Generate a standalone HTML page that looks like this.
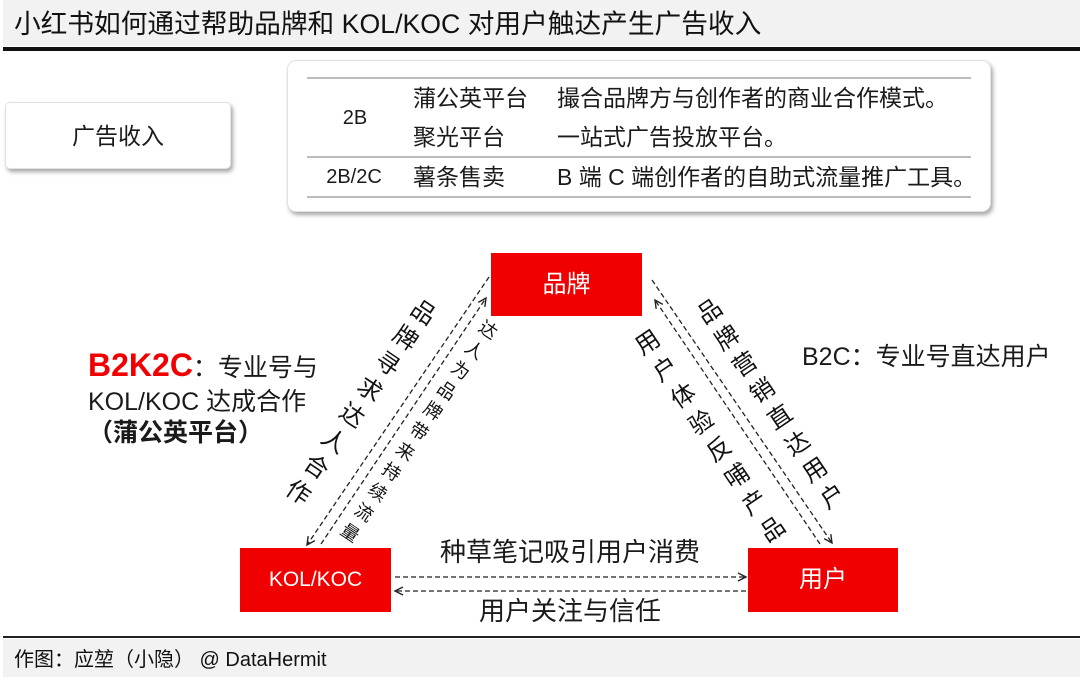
<!DOCTYPE html>
<html>
<head>
<meta charset="utf-8">
<style>
  html, body { margin:0; padding:0; background:#fff; }
  body { width:1080px; height:683px; position:relative; overflow:hidden;
         font-family:"Liberation Sans","Noto Sans CJK SC",sans-serif; color:#1a1a1a; }
  .abs { position:absolute; white-space:nowrap; }
  .titlebar { left:3px; top:0; width:1077px; height:46px; background:#f2f2f2; }
  .titleline { left:3px; top:47px; width:1077px; height:4px; background:#111; }
  .title { left:14px; top:4px; height:40px; line-height:40px; font-size:26.7px; color:#111; }
  .footline { left:3px; top:636px; width:1077px; height:2px; background:#222; }
  .footbar { left:3px; top:639px; width:1077px; height:38px; background:#f2f2f2; }
  .foot { left:14px; top:645px; height:30px; line-height:30px; font-size:20px; color:#111; }
  .card { background:#fff; border:1px solid #e2e2e2; box-shadow:2px 3px 4px rgba(0,0,0,0.35); }
  .c { text-align:center; }
  .red { background:#f00000; color:#fff; text-align:center; }
  .t23 { font-size:23px; height:30px; line-height:30px; }
</style>
</head>
<body>
  <div class="abs titlebar"></div>
  <div class="abs titleline"></div>
  <div class="abs title">小红书如何通过帮助品牌和 KOL/KOC 对用户触达产生广告收入</div>

  <!-- 广告收入 box -->
  <div class="abs card" style="left:5px;top:102px;width:224px;height:65px;border-radius:5px;"></div>
  <div class="abs c" style="left:5px;top:120px;width:226px;height:32px;line-height:32px;font-size:23px;">广告收入</div>

  <!-- table card -->
  <div class="abs card" style="left:287px;top:60px;width:702px;height:150px;border-radius:9px;"></div>
  <div class="abs" style="left:307px;top:77px;width:664px;height:1.5px;background:#bdbdbd;"></div>
  <div class="abs" style="left:307px;top:156px;width:664px;height:1.5px;background:#bdbdbd;"></div>
  <div class="abs" style="left:307px;top:196px;width:664px;height:1.5px;background:#bdbdbd;"></div>

  <div class="abs c" style="left:315px;top:103px;width:80px;height:30px;line-height:30px;font-size:20px;">2B</div>
  <div class="abs c" style="left:314px;top:162px;width:80px;height:30px;line-height:30px;font-size:20px;">2B/2C</div>

  <div class="abs t23" style="left:413px;top:83px;">蒲公英平台</div>
  <div class="abs t23" style="left:413px;top:122px;">聚光平台</div>
  <div class="abs t23" style="left:413px;top:162px;">薯条售卖</div>
  <div class="abs t23" style="left:557px;top:83px;">撮合品牌方与创作者的商业合作模式。</div>
  <div class="abs t23" style="left:557px;top:122px;">一站式广告投放平台。</div>
  <div class="abs t23" style="left:557px;top:162px;">B 端 C 端创作者的自助式流量推广工具。</div>

  <!-- red nodes -->
  <div class="abs red" style="left:491px;top:253px;width:151px;height:63px;line-height:63px;font-size:24px;">品牌</div>
  <div class="abs red" style="left:240px;top:548px;width:151px;height:64px;line-height:64px;font-size:21px;">KOL/KOC</div>
  <div class="abs red" style="left:748px;top:548px;width:150px;height:64px;line-height:64px;font-size:24px;">用户</div>

  <!-- B2K2C annotation -->
  <div class="abs" style="left:88px;top:346px;height:38px;line-height:38px;font-size:25px;">
    <span style="color:#f00000;font-weight:bold;font-size:32px;">B2K2C</span>：专业号与</div>
  <div class="abs" style="left:88px;top:386px;height:32px;line-height:32px;font-size:25px;">KOL/KOC 达成合作</div>
  <div class="abs" style="left:88px;top:417px;height:32px;line-height:32px;font-size:25px;font-weight:bold;">（蒲公英平台）</div>

  <!-- B2C annotation -->
  <div class="abs" style="left:802px;top:341px;height:32px;line-height:32px;font-size:25px;">B2C：专业号直达用户</div>

  <!-- bottom labels -->
  <div class="abs c" style="left:420px;top:535px;width:300px;height:34px;line-height:34px;font-size:26px;">种草笔记吸引用户消费</div>
  <div class="abs c" style="left:420px;top:594px;width:300px;height:34px;line-height:34px;font-size:26px;">用户关注与信任</div>

  <svg class="abs" style="left:0;top:0;" width="1080" height="683" viewBox="0 0 1080 683">
    <defs>
      <marker id="ah" markerUnits="userSpaceOnUse" markerWidth="12" markerHeight="12" refX="9" refY="5" orient="auto">
        <path d="M1,1 L9,5 L1,9" fill="none" stroke="#222" stroke-width="1.4"/>
      </marker>
    </defs>
    <g fill="none" stroke="#222" stroke-width="1.3" stroke-dasharray="5 3">
      <path d="M489,277 L307,545" marker-end="url(#ah)"/>
      <path d="M321,544 L486,298" marker-end="url(#ah)"/>
      <path d="M652,280 L832,543" marker-end="url(#ah)"/>
      <path d="M820,544 L655,300" marker-end="url(#ah)"/>
      <path d="M395,577 L746,577" marker-end="url(#ah)"/>
      <path d="M746,591 L395,591" marker-end="url(#ah)"/>
    </g>
    <g font-family="Liberation Sans, Noto Sans CJK SC, sans-serif" fill="#111" text-anchor="middle" dominant-baseline="central">
      <!-- 品牌寻求达人合作 -->
      <g font-size="24">
        <text x="423.0" y="313.0" transform="rotate(34 423.0 313.0)">品</text>
        <text x="405.1" y="338.7" transform="rotate(34 405.1 338.7)">牌</text>
        <text x="387.3" y="364.4" transform="rotate(34 387.3 364.4)">寻</text>
        <text x="369.4" y="390.1" transform="rotate(34 369.4 390.1)">求</text>
        <text x="351.6" y="415.9" transform="rotate(34 351.6 415.9)">达</text>
        <text x="333.7" y="441.6" transform="rotate(34 333.7 441.6)">人</text>
        <text x="315.9" y="467.3" transform="rotate(34 315.9 467.3)">合</text>
        <text x="298.0" y="493.0" transform="rotate(34 298.0 493.0)">作</text>
      </g>
      <!-- 达人为品牌带来持续流量 -->
      <g font-size="18">
        <text x="488.0" y="330.0" transform="rotate(34 488.0 330.0)">达</text>
        <text x="474.2" y="350.3" transform="rotate(34 474.2 350.3)">人</text>
        <text x="460.4" y="370.6" transform="rotate(34 460.4 370.6)">为</text>
        <text x="446.6" y="390.9" transform="rotate(34 446.6 390.9)">品</text>
        <text x="432.8" y="411.2" transform="rotate(34 432.8 411.2)">牌</text>
        <text x="419.0" y="431.5" transform="rotate(34 419.0 431.5)">带</text>
        <text x="405.2" y="451.8" transform="rotate(34 405.2 451.8)">来</text>
        <text x="391.4" y="472.1" transform="rotate(34 391.4 472.1)">持</text>
        <text x="377.6" y="492.4" transform="rotate(34 377.6 492.4)">续</text>
        <text x="363.8" y="512.7" transform="rotate(34 363.8 512.7)">流</text>
        <text x="350.0" y="533.0" transform="rotate(34 350.0 533.0)">量</text>
      </g>
      <!-- 用户体验反哺产品 -->
      <g font-size="24">
        <text x="648.0" y="343.0" transform="rotate(-34 648.0 343.0)">用</text>
        <text x="665.9" y="369.7" transform="rotate(-34 665.9 369.7)">户</text>
        <text x="683.7" y="396.4" transform="rotate(-34 683.7 396.4)">体</text>
        <text x="701.6" y="423.1" transform="rotate(-34 701.6 423.1)">验</text>
        <text x="719.4" y="449.9" transform="rotate(-34 719.4 449.9)">反</text>
        <text x="737.3" y="476.6" transform="rotate(-34 737.3 476.6)">哺</text>
        <text x="755.1" y="503.3" transform="rotate(-34 755.1 503.3)">产</text>
        <text x="773.0" y="530.0" transform="rotate(-34 773.0 530.0)">品</text>
      </g>
      <!-- 品牌营销直达用户 -->
      <g font-size="24">
        <text x="710.0" y="312.0" transform="rotate(-34 710.0 312.0)">品</text>
        <text x="727.6" y="338.4" transform="rotate(-34 727.6 338.4)">牌</text>
        <text x="745.1" y="364.9" transform="rotate(-34 745.1 364.9)">营</text>
        <text x="762.7" y="391.3" transform="rotate(-34 762.7 391.3)">销</text>
        <text x="780.3" y="417.7" transform="rotate(-34 780.3 417.7)">直</text>
        <text x="797.9" y="444.2" transform="rotate(-34 797.9 444.2)">达</text>
        <text x="815.4" y="470.6" transform="rotate(-34 815.4 470.6)">用</text>
        <text x="833.0" y="497.0" transform="rotate(-34 833.0 497.0)">户</text>
      </g>
    </g>
  </svg>

  <div class="abs footline"></div>
  <div class="abs footbar"></div>
  <div class="abs foot">作图：应堃（小隐） @ DataHermit</div>
</body>
</html>
